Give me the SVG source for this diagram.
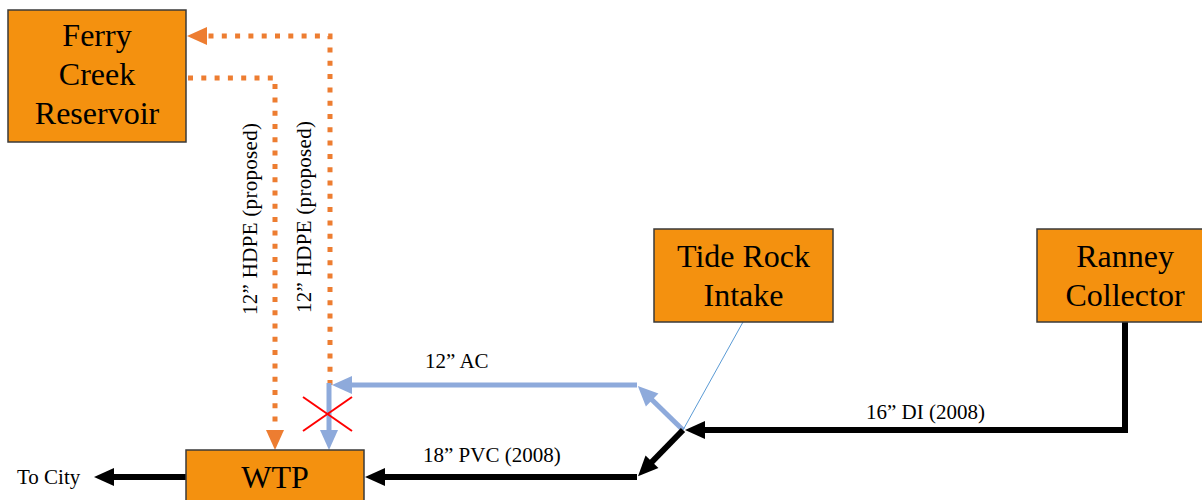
<svg xmlns="http://www.w3.org/2000/svg" width="1202" height="500" viewBox="0 0 1202 500">
<style>
.box{fill:#F4910F;stroke:#3a3a3a;stroke-width:1.5}
.bt{font-family:"Liberation Serif","DejaVu Serif",serif;font-size:32px;fill:#000;text-anchor:middle}
.lbl{font-family:"Liberation Serif","DejaVu Serif",serif;font-size:21px;fill:#000}
.blk{fill:none;stroke:#000;stroke-width:6}
.blu{fill:none;stroke:#8EAADB;stroke-width:5}
.org{fill:none;stroke:#ED7D31;stroke-width:5;stroke-dasharray:5 8.3}
</style>
<defs>
<marker id="ab" markerUnits="userSpaceOnUse" markerWidth="22" markerHeight="20" refX="10" refY="9" orient="auto" overflow="visible"><path d="M0,0 L20,9 L0,18 z" fill="#000"/></marker>
<marker id="au" markerUnits="userSpaceOnUse" markerWidth="22" markerHeight="20" refX="10" refY="9" orient="auto" overflow="visible"><path d="M0,0 L20,9 L0,18 z" fill="#8EAADB"/></marker>
<marker id="ao" markerUnits="userSpaceOnUse" markerWidth="22" markerHeight="20" refX="10" refY="9" orient="auto" overflow="visible"><path d="M0,0 L20,9 L0,18 z" fill="#ED7D31"/></marker>
</defs>
<g id="connectors">
<path class="org" d="M330,385 V36 H197" marker-end="url(#ao)"/>
<path class="org" d="M188,78 H275 V440" marker-end="url(#ao)"/>
<path class="blu" d="M637,385 H342" marker-end="url(#au)"/>
<path class="blu" d="M329,383 V440" marker-end="url(#au)"/>
<path class="blu" d="M683,430 L645,393" marker-end="url(#au)"/>
<line x1="743" y1="322" x2="683" y2="430" stroke="#5B9BD5" stroke-width="1"/>
<path class="blk" d="M1125,322 V430 H695" marker-end="url(#ab)"/>
<path class="blk" d="M683,430 L645,469" marker-end="url(#ab)"/>
<path class="blk" d="M637,477 H375" marker-end="url(#ab)"/>
<path class="blk" d="M186,477 H104" marker-end="url(#ab)"/>
<g stroke="#FF0000" stroke-width="2">
<line x1="303" y1="397" x2="352" y2="431"/>
<line x1="352" y1="397" x2="303" y2="431"/>
</g>
</g>
<g id="labels" font-family="Liberation Serif, serif">
<text class="lbl" x="425" y="368">12” AC</text>
<text class="lbl" x="423" y="462">18” PVC (2008)</text>
<text class="lbl" x="866" y="419">16” DI (2008)</text>
<text class="lbl" x="17" y="484">To City</text>
<text class="lbl" transform="translate(257,315) rotate(-90)" textLength="192">12” HDPE (proposed)</text>
<text class="lbl" transform="translate(311,313) rotate(-90)" textLength="192">12” HDPE (proposed)</text>
</g>
<g id="ferry-creek" font-family="Liberation Serif, serif">
<rect class="box" x="8" y="10" width="178" height="132"/>
<text class="bt" x="97" y="46">Ferry</text>
<text class="bt" x="97" y="85">Creek</text>
<text class="bt" x="97" y="124">Reservoir</text>
</g>
<g id="tide-rock" font-family="Liberation Serif, serif">
<rect class="box" x="654" y="229" width="179" height="93"/>
<text class="bt" x="743.5" y="267">Tide Rock</text>
<text class="bt" x="743.5" y="306">Intake</text>
</g>
<g id="ranney" font-family="Liberation Serif, serif">
<rect class="box" x="1037" y="229" width="175" height="93"/>
<text class="bt" x="1125" y="267">Ranney</text>
<text class="bt" x="1125" y="306">Collector</text>
</g>
<g id="wtp" font-family="Liberation Serif, serif">
<rect class="box" x="186" y="450" width="178" height="60"/>
<text class="bt" x="275" y="488">WTP</text>
</g>
</svg>
